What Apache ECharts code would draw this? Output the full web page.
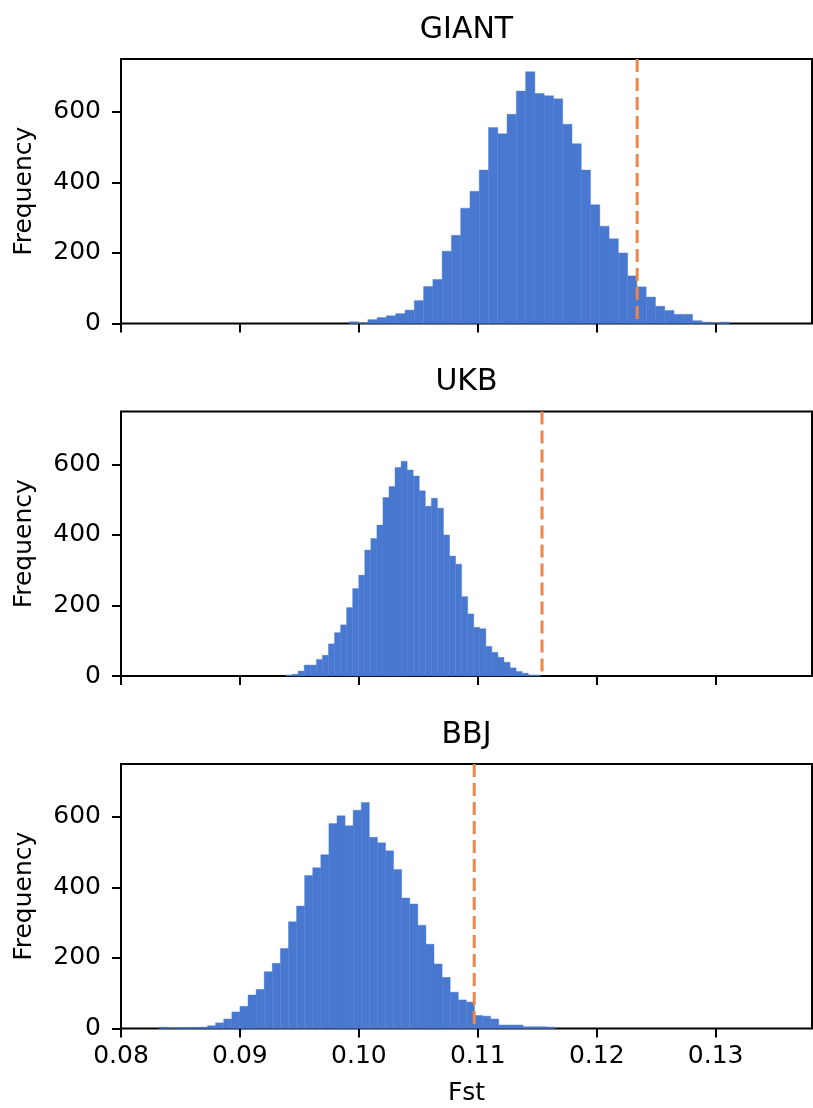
<!DOCTYPE html>
<html>
<head>
<meta charset="utf-8">
<script src="https://cdn.jsdelivr.net/npm/echarts@6/dist/echarts.min.js"></script>
<style>
html, body { margin: 0; padding: 0; background: #fff; }
#chart { width: 813px; height: 1108px; }
</style>
</head>
<body>
<div id="chart"></div>
<script>
var panelNames = ['GIANT', 'UKB', 'BBJ'];

// histogram counts, one entry per bin
var giantCounts = [5, 0, 11, 17, 22, 28, 38, 65, 105, 125, 205, 250, 327, 375, 435, 556, 538, 593, 659, 714,
    652, 646, 637, 565, 510, 435, 337, 276, 240, 200, 135, 104, 75, 49, 37, 26, 26, 8, 4, 0, 4];
var ukbCounts = [3, 5, 14, 31, 31, 47, 59, 91, 123, 145, 194, 248, 286, 357, 390, 428, 506, 537, 591, 609,
    584, 567, 525, 481, 504, 476, 400, 340, 317, 225, 176, 138, 134, 84, 67, 53, 39, 23, 13, 8, 3, 3];
var bbjCounts = [4, 0, 3, 3, 3, 4, 8, 16, 27, 47, 63, 95, 111, 161, 185, 227, 303, 347, 434, 456,
    493, 581, 603, 575, 619, 641, 542, 527, 504, 451, 370, 353, 293, 239, 183, 145, 103, 81, 75, 37,
    35, 27, 10, 10, 10, 5, 5, 5, 4];

// first bin edge and bin width (Fst) of each panel
var binStarts = [0.0992, 0.09388, 0.0832];
var binWidths = [0.00078, 0.000509, 0.00068];

// observed Fst (dashed line)
var observedFst = [0.1234, 0.1154, 0.1097];

var xTicks = [0.08, 0.09, 0.10, 0.11, 0.12, 0.13];
var yTicks = [0, 200, 400, 600];

var allCounts = [giantCounts, ukbCounts, bbjCounts];
var barColor = '#4878cf';
var lineColor = '#ee854a';
var font = 'DejaVu Sans';
var gridTops = [59, 411.5, 764];

function renderBin(params, api) {
    var topLeft = api.coord([api.value(0), api.value(2)]);
    var bottomRight = api.coord([api.value(1), 0]);
    return {
        type: 'rect',
        shape: {
            x: topLeft[0],
            y: topLeft[1],
            width: bottomRight[0] - topLeft[0],
            height: bottomRight[1] - topLeft[1]
        },
        style: { fill: barColor, stroke: barColor, lineWidth: 0.4 }
    };
}

var grids = [], xAxes = [], yAxes = [], series = [], texts = [];
panelNames.forEach(function (name, i) {
    var bins = allCounts[i].map(function (c, k) {
        var lo = binStarts[i] + k * binWidths[i];
        return [lo, lo + binWidths[i], c];
    });
    var isLast = i === panelNames.length - 1;
    grids.push({
        left: 121, width: 691, top: gridTops[i], height: 264.5,
        show: true, borderColor: '#000', borderWidth: 2, backgroundColor: '#fff'
    });
    xAxes.push({
        type: 'value', gridIndex: i, min: 0.08, max: 0.1381,
        axisLine: { show: false },
        axisTick: { show: true, customValues: xTicks, length: 9, lineStyle: { color: '#000', width: 2 } },
        axisLabel: {
            show: isLast, customValues: xTicks, margin: 15,
            fontSize: 25, fontFamily: font, color: '#000',
            formatter: function (v) { return v.toFixed(2); }
        },
        splitLine: { show: false },
        name: isLast ? 'Fst' : '', nameLocation: 'middle', nameGap: 52,
        nameTextStyle: { fontSize: 25, fontFamily: font, color: '#000' }
    });
    yAxes.push({
        type: 'value', gridIndex: i, min: 0, max: 750,
        axisLine: { show: false },
        axisTick: { show: true, customValues: yTicks, length: 9, lineStyle: { color: '#000', width: 2 } },
        axisLabel: {
            customValues: yTicks, margin: 20,
            fontSize: 25, fontFamily: font, color: '#000'
        },
        splitLine: { show: false },
        name: 'Frequency', nameLocation: 'middle', nameGap: 84, nameRotate: 90,
        nameTextStyle: { fontSize: 25, fontFamily: font, color: '#000' }
    });
    series.push({
        type: 'custom', xAxisIndex: i, yAxisIndex: i,
        renderItem: renderBin,
        encode: { x: [0, 1], y: 2 },
        data: bins,
        silent: true
    });
    series.push({
        type: 'line', xAxisIndex: i, yAxisIndex: i,
        data: [[observedFst[i], 750], [observedFst[i], 0]],
        symbol: 'none',
        lineStyle: { color: lineColor, width: 3, type: [13, 6] },
        silent: true
    });
    texts.push({
        type: 'text', x: 466.5, y: gridTops[i] - 44,
        style: { text: name, font: '30px "DejaVu Sans"', fill: '#000', textAlign: 'center' }
    });
});

var chart = echarts.init(document.getElementById('chart'));
chart.setOption({
    animation: false,
    backgroundColor: '#fff',
    grid: grids,
    xAxis: xAxes,
    yAxis: yAxes,
    series: series,
    graphic: texts
});
</script>
</body>
</html>
